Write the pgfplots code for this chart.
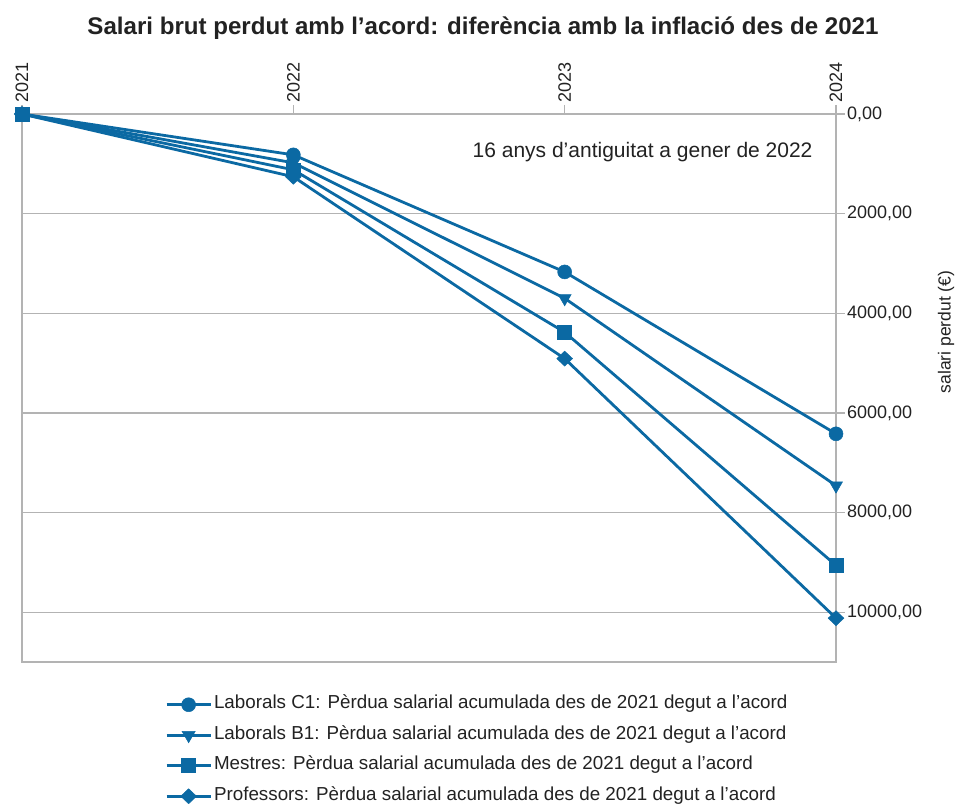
\documentclass[border=0pt]{standalone}
\usepackage{fontspec}
\setmainfont{Liberation Sans}
\usepackage{pgfplots}
\pgfplotsset{compat=1.18}
\definecolor{serblue}{HTML}{0B69A3}
\definecolor{axgray}{HTML}{B3B3B3}
\definecolor{txt}{HTML}{222222}
\begin{document}
\begin{tikzpicture}
\useasboundingbox (0,0) rectangle (957pt,803pt);
\begin{axis}[
  at={(22pt,141pt)}, anchor=south west,
  scale only axis, width=814pt, height=548pt,
  xmin=2021, xmax=2024, ymin=0, ymax=11000,
  y dir=reverse,
  scaled ticks=false,
  xtick={2021,2022,2023,2024},
  xticklabels={2021,2022,2023,2024},
  xtick pos=right, xticklabel pos=right,
  xticklabel style={rotate=90, anchor=west, font=\fontsize{18}{20}\selectfont, text=txt, inner sep=2pt},
  ytick={0,2000,4000,6000,8000,10000},
  ytick pos=right, yticklabel pos=right,
  yticklabel style={font=\fontsize{18}{20}\selectfont, text=txt, anchor=west, inner sep=2pt},
  /pgf/number format/.cd, fixed, fixed zerofill, precision=2, use comma, 1000 sep={}, assume math mode=true,
  /pgfplots/.cd,
  tick align=outside, major tick length=9pt,
  axis line style={axgray, line width=1.2pt},
  tick style={axgray, line width=1.2pt},
  ymajorgrids, grid style={axgray, line width=1.2pt},
  clip=false,
  legend style={at={(0.1757,-0.058)}, anchor=north west, draw=none, fill=none,
    font=\fontsize{18.8}{21}\selectfont, text=txt, row sep=9pt, inner sep=0pt,
    nodes={text height=13pt, text depth=4.5pt}},
  legend cell align=left,
  legend image code/.code={\draw[line width=2.8pt, mark repeat=2, mark phase=2] plot coordinates {(0pt,0pt) (22pt,0pt) (44pt,0pt)};},
]
\addplot[serblue, line width=2.8pt, mark=*, mark size=7pt, mark options={fill=serblue, draw=serblue, line width=0.5pt}] coordinates {(2021,0) (2022,820) (2023,3170) (2024,6420)};
\addlegendentry{Laborals C1: Pèrdua salarial acumulada des de 2021 degut a l'acord}
\addplot[serblue, line width=2.8pt, mark=triangle*, mark size=7.5pt, mark options={fill=serblue, draw=serblue, rotate=180, line width=0.5pt}] coordinates {(2021,0) (2022,980) (2023,3700) (2024,7460)};
\addlegendentry{Laborals B1: Pèrdua salarial acumulada des de 2021 degut a l'acord}
\addplot[serblue, line width=2.8pt, mark=square*, mark size=7pt, mark options={fill=serblue, draw=serblue, line width=0.5pt}] coordinates {(2021,0) (2022,1120) (2023,4380) (2024,9060)};
\addlegendentry{Mestres: Pèrdua salarial acumulada des de 2021 degut a l'acord}
\addplot[serblue, line width=2.8pt, mark=diamond*, mark size=7.5pt, mark options={fill=serblue, draw=serblue, xscale=1.4, line width=0.5pt}] coordinates {(2021,0) (2022,1260) (2023,4910) (2024,10120)};
\addlegendentry{Professors: Pèrdua salarial acumulada des de 2021 degut a l'acord}
\addplot[forget plot, only marks, serblue, mark=square*, mark size=7pt, mark options={fill=serblue, draw=serblue, line width=0.5pt}] coordinates {(2021,0)};
\end{axis}
\node[font=\bfseries\fontsize{24.1}{27}\selectfont, text=txt] at (483pt,775pt) {Salari brut perdut amb l'acord: diferència amb la inflació des de 2021};
\node[font=\fontsize{21}{24}\selectfont, text=txt, anchor=east] at (816pt,651pt) {16 anys d'antiguitat a gener de 2022};
\node[font=\fontsize{17.5}{20}\selectfont, text=txt, rotate=90] at (946pt,471pt) {salari perdut (€)};
\end{tikzpicture}
\end{document}
